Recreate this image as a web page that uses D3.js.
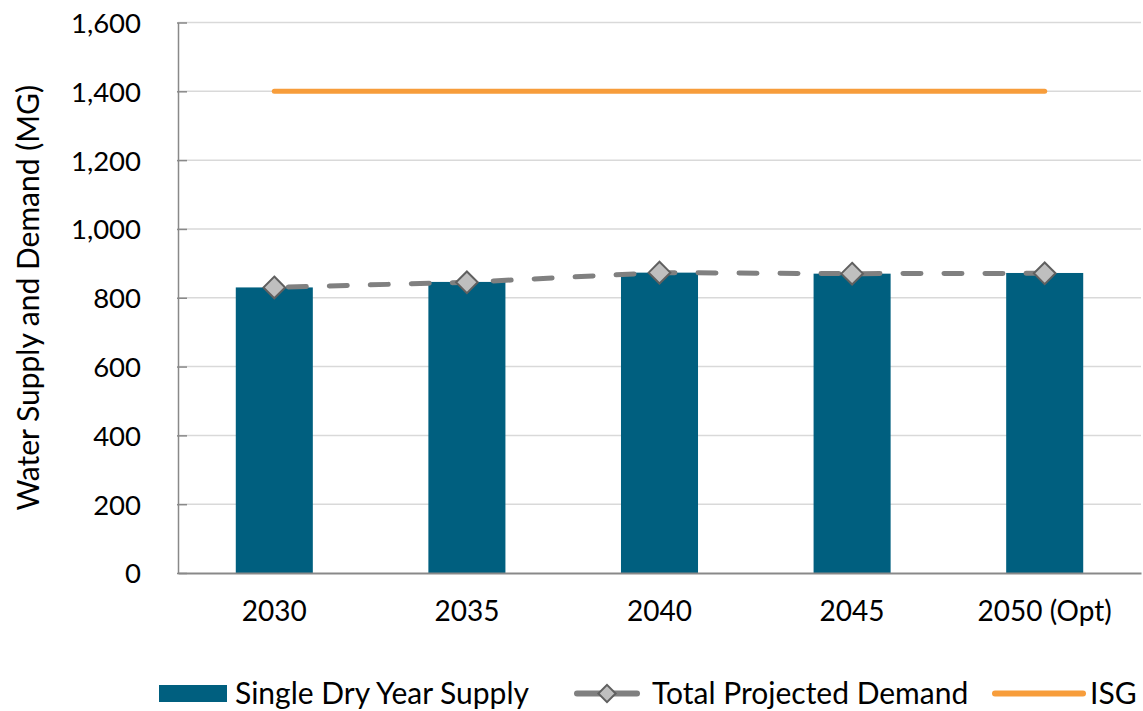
<!DOCTYPE html>
<html>
<head>
<meta charset="utf-8">
<script src="https://cdn.jsdelivr.net/npm/d3@7"></script>
<style>
  body { margin: 0; background: #fff; }
  svg { display: block; }
  text { font-family: Lato, "Open Sans", sans-serif; fill: #000; }
</style>
</head>
<body>
<svg id="chart" width="1143" height="711"></svg>
<script>
const categories = ["2030", "2035", "2040", "2045", "2050 (Opt)"];
const supply = [830, 846, 873, 870, 872];
const demand = [830, 845, 873, 870, 871];
const isg = [1400, 1400, 1400, 1400, 1400];
const yTicks = [0, 200, 400, 600, 800, 1000, 1200, 1400, 1600];

const svg = d3.select("#chart");
const pL = 178, pR = 1141, pT = 22.5, pB = 573;

const x = d3.scaleBand().domain(categories).range([pL, pR]).paddingInner(0.6).paddingOuter(0.3);
const xc = d => x(d) + x.bandwidth() / 2;
const y = d3.scaleLinear().domain([0, 1600]).range([pB, pT]);

// gridlines
svg.append("g").selectAll("line").data(yTicks.filter(d => d > 0)).join("line")
  .attr("x1", pL).attr("x2", pR)
  .attr("y1", d => y(d)).attr("y2", d => y(d))
  .attr("stroke", "#d9d9d9").attr("stroke-width", 1.5);

// y axis
const yAxis = svg.append("g").attr("transform", `translate(${pL},0)`)
  .call(d3.axisLeft(y).tickValues(yTicks).tickFormat(d3.format(",")).tickSize(0).tickPadding(36));
yAxis.select(".domain").attr("stroke", "#898989").attr("stroke-width", 1.5);
yAxis.selectAll("text").style("font-size", "27.5px").style("font-family", "Lato, sans-serif").attr("fill", "#000").attr("dy", "0.36em");
yAxis.selectAll(".tick").append("line").attr("x1", -1).attr("x2", 9).attr("stroke", "#898989").attr("stroke-width", 1.5);
yAxis.selectAll(".tick text").attr("x", -37);

// bars
svg.append("g").selectAll("rect").data(categories).join("rect")
  .attr("x", d => x(d)).attr("width", x.bandwidth())
  .attr("y", (d, i) => y(supply[i])).attr("height", (d, i) => pB - y(supply[i]))
  .attr("fill", "#005f7f");

// x axis
const xAxis = svg.append("g").attr("transform", `translate(0,${pB})`)
  .call(d3.axisBottom(x).tickSize(0).tickPadding(28));
xAxis.select(".domain").attr("stroke", "#898989").attr("stroke-width", 2);
xAxis.selectAll("text").style("font-size", "28px").style("font-family", "Lato, sans-serif").attr("fill", "#000");

// ISG line
svg.append("path")
  .datum(categories)
  .attr("d", d3.line().x(d => xc(d)).y((d, i) => y(isg[i])))
  .attr("fill", "none").attr("stroke", "#f79d3b").attr("stroke-width", 5).attr("stroke-linecap", "round");

// Demand line
svg.append("path")
  .datum(categories)
  .attr("d", d3.line().x(d => xc(d)).y((d, i) => y(demand[i])))
  .attr("fill", "none").attr("stroke", "#808080").attr("stroke-width", 5)
  .attr("stroke-linecap", "round").attr("stroke-dasharray", "18,23").attr("stroke-dashoffset", -14);

const diamond = d3.symbol().type(d3.symbolDiamond2);
svg.append("g").selectAll("path").data(categories).join("path")
  .attr("d", diamond.size(300)())
  .attr("transform", (d, i) => `translate(${xc(d)},${y(demand[i])})`)
  .attr("fill", "#bfbfbf").attr("stroke", "#606060").attr("stroke-width", 2);

// legend
const ly = 693.5;
const lfs = "30px";
const lg = svg.append("g");
lg.append("rect").attr("x", 159).attr("y", 685).attr("width", 68).attr("height", 17).attr("fill", "#005f7f");
lg.append("text").attr("x", 235).attr("y", ly).attr("dy", "0.35em").style("font-size", lfs).text("Single Dry Year Supply");
lg.append("line").attr("x1", 577).attr("x2", 637).attr("y1", ly).attr("y2", ly)
  .attr("stroke", "#808080").attr("stroke-width", 6).attr("stroke-linecap", "round");
lg.append("path").attr("d", diamond.size(190)()).attr("transform", `translate(607,${ly})`)
  .attr("fill", "#bfbfbf").attr("stroke", "#606060").attr("stroke-width", 2);
lg.append("text").attr("x", 652).attr("y", ly).attr("dy", "0.35em").style("font-size", lfs).text("Total Projected Demand");
lg.append("line").attr("x1", 995).attr("x2", 1083).attr("y1", ly).attr("y2", ly)
  .attr("stroke", "#f79d3b").attr("stroke-width", 6).attr("stroke-linecap", "round");
lg.append("text").attr("x", 1090).attr("y", ly).attr("dy", "0.35em").style("font-size", lfs).text("ISG");

// y title
svg.append("text")
  .attr("transform", `translate(39,${(pT + pB) / 2}) rotate(-90)`)
  .attr("text-anchor", "middle")
  .style("font-size", "30px")
  .text("Water Supply and Demand (MG)");
</script>
</body>
</html>
